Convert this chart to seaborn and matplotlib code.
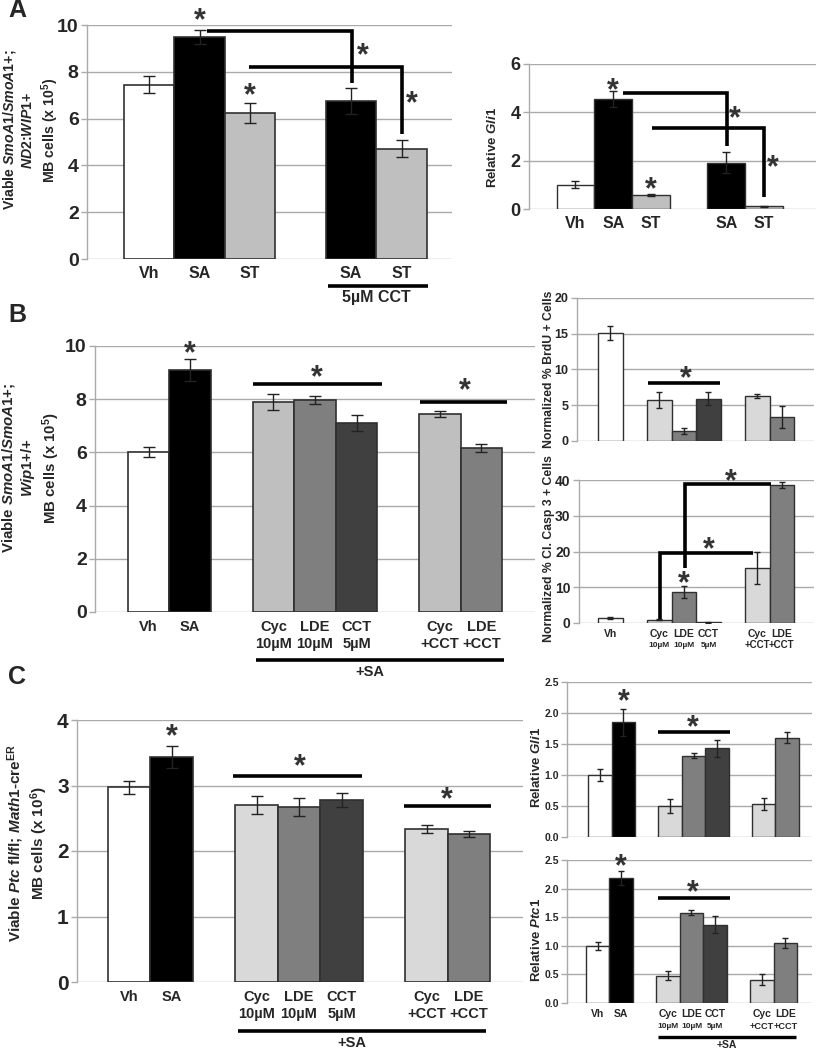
import numpy as np
import pandas as pd
import matplotlib
matplotlib.use("Agg")
import matplotlib.pyplot as plt
import seaborn as sns

sns.set_theme(style="white")
plt.rcParams['font.family'] = ['Liberation Sans', 'DejaVu Sans']
plt.rcParams['font.weight'] = 'bold'
plt.rcParams['mathtext.fontset'] = 'custom'
plt.rcParams['mathtext.rm'] = 'Liberation Sans:bold'
plt.rcParams['mathtext.it'] = 'Liberation Sans:bold:italic'
plt.rcParams['mathtext.bf'] = 'Liberation Sans:bold'

# ---------------- data ----------------
# Panel A left
a1_pos = [0, 1, 2, 4, 5]
a1_labels = ["Vh", "SA", "ST", "SA", "ST"]
a1_vals = [7.45, 9.5, 6.25, 6.75, 4.72]
a1_errs = [0.35, 0.3, 0.42, 0.55, 0.38]
# Panel A right (Relative Gli1)
a2_pos = [0, 1, 2, 4, 5]
a2_labels = ["Vh", "SA", "ST", "SA", "ST"]
a2_vals = [1.0, 4.55, 0.57, 1.92, 0.12]
a2_errs = [0.15, 0.33, 0.05, 0.42, 0.02]
# Panel B left
b1_pos = [0, 1, 3, 4, 5, 7, 8]
b1_labels = ["Vh", "SA", "Cyc\n10\u00b5M", "LDE\n10\u00b5M", "CCT\n5\u00b5M", "Cyc\n+CCT", "LDE\n+CCT"]
b1_vals = [6.02, 9.1, 7.9, 7.98, 7.1, 7.45, 6.18]
b1_errs = [0.2, 0.4, 0.3, 0.15, 0.3, 0.12, 0.15]
# Panel B right top (BrdU)
b2_pos = [0, 2, 3, 4, 6, 7]
b2_vals = [15.1, 5.75, 1.4, 5.9, 6.25, 3.3]
b2_errs = [0.95, 1.1, 0.4, 0.9, 0.3, 1.55]
# Panel B right bottom (Cl. Casp 3)
b3_pos = [0, 2, 3, 4, 6, 7]
b3_top = ["Vh", "Cyc", "LDE", "CCT", "Cyc", "LDE"]
b3_bot = ["", "10\u00b5M", "10\u00b5M", "5\u00b5M", "+CCT", "+CCT"]
b3_vals = [1.5, 0.9, 8.6, 0.2, 15.4, 38.6]
b3_errs = [0.3, 0.1, 1.7, 0.1, 4.4, 0.8]
# Panel C left
c1_pos = [0, 1, 3, 4, 5, 7, 8]
c1_labels = ["Vh", "SA", "Cyc\n10\u00b5M", "LDE\n10\u00b5M", "CCT\n5\u00b5M", "Cyc\n+CCT", "LDE\n+CCT"]
c1_vals = [2.97, 3.43, 2.7, 2.67, 2.78, 2.34, 2.26]
c1_errs = [0.1, 0.17, 0.14, 0.14, 0.11, 0.06, 0.05]
# Panel C right top (Gli1)
c2_pos = [0, 1, 3, 4, 5, 7, 8]
c2_vals = [1.0, 1.85, 0.5, 1.31, 1.43, 0.53, 1.6]
c2_errs = [0.1, 0.22, 0.12, 0.04, 0.14, 0.1, 0.09]
# Panel C right bottom (Ptc1)
c3_pos = [0, 1, 3, 4, 5, 7, 8]
c3_top = ["Vh", "SA", "Cyc", "LDE", "CCT", "Cyc", "LDE"]
c3_bot = ["", "", "10\u00b5M", "10\u00b5M", "5\u00b5M", "+CCT", "+CCT"]
c3_vals = [1.0, 2.18, 0.48, 1.58, 1.37, 0.41, 1.05]
c3_errs = [0.07, 0.12, 0.08, 0.05, 0.15, 0.1, 0.09]

WHITE, BLACK, LG, VLG, MG, DG = "#FFFFFF", "#000000", "#BFBFBF", "#D9D9D9", "#7F7F7F", "#404040"
a_cols = [WHITE, BLACK, LG, BLACK, LG]
b1_cols = [WHITE, BLACK, LG, MG, DG, LG, MG]
b2_cols = [WHITE, VLG, MG, DG, VLG, MG]
c_cols = [WHITE, BLACK, VLG, MG, DG, VLG, MG]

GRID = "#AAAAAA"
EDGE = "#303030"
STARC = "#333333"

W, H = 816, 1050
fig = plt.figure(figsize=(W / 100, H / 100), dpi=100)


def add_ax(x0, x1, ytop, ybot):
    return fig.add_axes([x0 / W, 1 - ybot / H, (x1 - x0) / W, (ybot - ytop) / H])


def bars(ax, pos, vals, errs, cols, ylim, yticks, xlim, tick_fs, lw=1.0, cap=3,
         fmt=None):
    keys = [f"k{i}" for i in range(len(pos))]
    df = pd.DataFrame({"pos": pos, "val": vals, "key": keys})
    sns.barplot(data=df, x="pos", y="val", hue="key", palette=dict(zip(keys, cols)),
                native_scale=True, dodge=False, width=1.0, edgecolor=EDGE,
                linewidth=lw, errorbar=None, legend=False, ax=ax, zorder=2)
    ax.errorbar(pos, vals, yerr=errs, fmt="none", ecolor="#222222", elinewidth=1,
                capsize=cap, capthick=1, zorder=3)
    ax.set_xlim(*xlim)
    ax.set_ylim(*ylim)
    ax.set_yticks(yticks)
    if fmt:
        ax.set_yticklabels([fmt.format(t) for t in yticks])
    ax.set_axisbelow(True)
    ax.grid(axis="y", color=GRID, lw=1)
    ax.grid(axis="x", visible=False)
    for s in ["top", "right", "bottom"]:
        ax.spines[s].set_visible(False)
    ax.spines["left"].set_color(GRID)
    ax.spines["left"].set_linewidth(1)
    ax.tick_params(axis="y", length=4, width=1, color=GRID, labelsize=tick_fs,
                   pad=2, left=True)
    ax.tick_params(axis="x", length=0)
    ax.set_xlabel("")
    ax.set_ylabel("")
    ax.set_facecolor("none")
    for t in ax.get_yticklabels():
        t.set_fontweight("bold")


def star(ax, x, y, fs=22):
    ax.annotate("*", (x, y), xytext=(0, -0.45 * fs), textcoords="offset points",
                ha="center", va="baseline", fontsize=fs, fontweight="bold",
                color=STARC, annotation_clip=False)


def line(ax, xs, ys, lw=2.6):
    ax.plot(xs, ys, color="black", lw=lw, clip_on=False, solid_capstyle="butt",
            solid_joinstyle="miter", zorder=4)


def xlabels(ax, pos, labels, fs, pad=6):
    ax.set_xticks(pos)
    ax.set_xticklabels(labels, fontsize=fs, fontweight="bold", linespacing=1.25)
    ax.tick_params(axis="x", pad=pad)


def under(ax, x0, x1, yline, text, ytext, xtext, fs, lw=2.6):
    tr = ax.get_xaxis_transform()
    ax.plot([x0, x1], [yline, yline], color="black", lw=lw, transform=tr,
            clip_on=False, solid_capstyle="butt")
    ax.text(xtext, ytext, text, transform=tr, ha="center", va="center",
            fontsize=fs, fontweight="bold")


def second_line(ax, pos, texts, y, fs_mu, fs_cct):
    tr = ax.get_xaxis_transform()
    for p, t in zip(pos, texts):
        if t:
            fs = fs_cct if "+" in t else fs_mu
            ax.text(p, y, t, transform=tr, ha="center", va="center",
                    fontsize=fs, fontweight="bold")


# ---------------- Panel A left ----------------
ax = add_ax(87, 452, 25, 259)
bars(ax, a1_pos, a1_vals, a1_errs, a_cols, (0, 10), [0, 2, 4, 6, 8, 10],
     (-1.228, 6.0), 14, lw=1.2, cap=4)
xlabels(ax, a1_pos, a1_labels, 11.5, pad=5)
star(ax, 1, 10.4); star(ax, 2, 7.2)
line(ax, [1.15, 4.02, 4.02], [9.74, 9.74, 7.52])
line(ax, [1.98, 5.01, 5.01], [8.2, 8.2, 5.35])
star(ax, 4.24, 8.93); star(ax, 5.21, 6.85)
under(ax, 3.54, 5.52, -0.115, "5\u00b5M CCT", -0.165, 4.5, 11.5)
fig.text(31 / W, 1 - 130 / H,
         "Viable $\\it{SmoA1/SmoA1{+}}$;\n$\\it{ND2}$:$\\it{WIP1{+}}$\nMB cells (x 10$^{5}$)",
         rotation=90, ha="center", va="center", fontsize=10.2, fontweight="bold",
         multialignment="center", linespacing=1.25)

# ---------------- Panel A right ----------------
ax = add_ax(529, 816, 64, 209)
bars(ax, a2_pos, a2_vals, a2_errs, a_cols, (0, 6), [0, 2, 4, 6],
     (-1.233, 6.38), 13, lw=1.0, cap=3)
xlabels(ax, a2_pos, a2_labels, 11.5, pad=5)
star(ax, 1, 5.13); star(ax, 2, 1.03)
line(ax, [1.26, 4.02, 4.02], [4.8, 4.8, 2.6])
line(ax, [2.03, 5.0, 5.0], [3.35, 3.35, 0.5])
star(ax, 4.23, 3.97); star(ax, 5.24, 1.94)
fig.text(492 / W, 1 - 147 / H, "Relative $\\it{Gli1}$", rotation=90,
         ha="center", va="center", fontsize=9.5, fontweight="bold")

# ---------------- Panel B left ----------------
ax = add_ax(95, 535, 346, 612)
bars(ax, b1_pos, b1_vals, b1_errs, b1_cols, (0, 10), [0, 2, 4, 6, 8, 10],
     (-1.286, 9.29), 14, lw=1.2, cap=4)
xlabels(ax, b1_pos, b1_labels, 10.5, pad=6)
star(ax, 1, 9.9)
line(ax, [2.51, 5.61], [8.57, 8.57]); star(ax, 4.05, 9.02)
line(ax, [6.53, 8.62], [7.9, 7.9]); star(ax, 7.61, 8.53)
under(ax, 2.58, 8.55, -0.18, "+SA", -0.226, 5.33, 10.5)
fig.text(31 / W, 1 - 468 / H,
         "Viable $\\it{SmoA1/SmoA1{+}}$;\n$\\it{Wip1{+}/{+}}$\nMB cells (x 10$^{5}$)",
         rotation=90, ha="center", va="center", fontsize=10.8, fontweight="bold",
         multialignment="center", linespacing=1.2)

# ---------------- Panel B right top ----------------
ax = add_ax(577, 814, 298, 441)
bars(ax, b2_pos, b2_vals, b2_errs, b2_cols, (0, 20), [0, 5, 10, 15, 20],
     (-1.367, 8.31), 9, lw=1.0, cap=2)
ax.set_xticks([])
line(ax, [1.53, 4.47], [8.1, 8.1]); star(ax, 3.08, 9.5)
fig.text(549 / W, 1 - 369 / H, "Normalized % BrdU + Cells", rotation=90,
         ha="center", va="center", fontsize=8.8, fontweight="bold")

# ---------------- Panel B right bottom ----------------
ax = add_ax(579, 814, 480, 623)
bars(ax, b3_pos, b3_vals, b3_errs, b2_cols, (0, 40), [0, 10, 20, 30, 40],
     (-1.286, 8.31), 10, lw=1.0, cap=2)
xlabels(ax, b3_pos, b3_top, 7.5, pad=4)
second_line(ax, b3_pos, b3_bot, -0.155, 6, 7)
line(ax, [3.06, 3.06, 6.54], [15.4, 38.8, 38.8]); star(ax, 4.9, 40.9)
line(ax, [2.02, 2.02, 5.82], [1.0, 19.5, 19.5]); star(ax, 4.0, 22.0)
star(ax, 3, 12.5)
fig.text(549 / W, 1 - 549 / H, "Normalized % Cl. Casp 3 + Cells", rotation=90,
         ha="center", va="center", fontsize=8.8, fontweight="bold")

# ---------------- Panel C left ----------------
ax = add_ax(77, 523, 720, 982)
bars(ax, c1_pos, c1_vals, c1_errs, c_cols, (0, 4), [0, 1, 2, 3, 4],
     (-1.224, 9.27), 15, lw=1.2, cap=4)
xlabels(ax, c1_pos, c1_labels, 10.5, pad=6)
star(ax, 1, 3.82)
line(ax, [2.45, 5.48], [3.15, 3.15]); star(ax, 4.02, 3.37)
line(ax, [6.47, 8.52], [2.69, 2.69]); star(ax, 7.48, 2.87)
under(ax, 2.56, 8.4, -0.187, "+SA", -0.233, 5.25, 10.5)
fig.text(28 / W, 1 - 843 / H,
         "Viable $\\it{Ptc}$ fl/fl; $\\it{Math1}$-cre$^{\\rm ER}$\nMB cells (x 10$^{6}$)",
         rotation=90, ha="center", va="center", fontsize=11, fontweight="bold",
         multialignment="center", linespacing=1.15)

# ---------------- Panel C right top ----------------
ax = add_ax(567, 812, 682, 837)
bars(ax, c2_pos, c2_vals, c2_errs, c_cols, (0, 2.5), [0, 0.5, 1.0, 1.5, 2.0, 2.5],
     (-1.41, 9.06), 7.5, lw=1.0, cap=2, fmt="{:.1f}")
ax.set_xticks([])
star(ax, 1, 2.27)
line(ax, [2.48, 5.56], [1.70, 1.70]); star(ax, 3.97, 1.84)
fig.text(537 / W, 1 - 767 / H, "Relative $\\it{Gli1}$", rotation=90,
         ha="center", va="center", fontsize=9.5, fontweight="bold")

# ---------------- Panel C right bottom ----------------
ax = add_ax(567, 812, 860, 1003)
bars(ax, c3_pos, c3_vals, c3_errs, c_cols, (0, 2.5), [0, 0.5, 1.0, 1.5, 2.0, 2.5],
     (-1.30, 9.13), 7.5, lw=1.0, cap=2, fmt="{:.1f}")
xlabels(ax, c3_pos, c3_top, 7.5, pad=4)
second_line(ax, c3_pos, c3_bot, -0.165, 6, 6.6)
star(ax, 1, 2.47)
line(ax, [2.57, 5.64], [1.84, 1.84]); star(ax, 4.06, 2.02)
under(ax, 2.57, 8.45, -0.238, "+SA", -0.294, 5.5, 7.5, lw=2.4)
fig.text(537 / W, 1 - 940 / H, "Relative $\\it{Ptc1}$", rotation=90,
         ha="center", va="center", fontsize=9.5, fontweight="bold")

# panel letters
for letter, yc in [("A", 10), ("B", 315), ("C", 677)]:
    fig.text(8 / W, 1 - yc / H, letter, ha="left", va="center", fontsize=18,
             fontweight="bold")

fig.savefig("out.png", dpi=100)
